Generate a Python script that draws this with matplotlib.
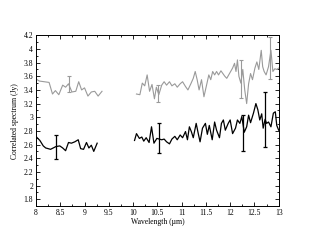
#!/usr/bin/env python3

import numpy as np
import matplotlib
matplotlib.use("Agg")
import matplotlib.pyplot as plt
from matplotlib.ticker import MultipleLocator, FuncFormatter

# --- datos ---------------------------------------------------------
# espectro gris (superior), tramo 8-9.4 um
gris_izq_x = [8.00, 8.07, 8.27, 8.34, 8.40, 8.47, 8.55, 8.61, 8.67, 8.74,
              8.82, 8.88, 8.94, 9.00, 9.07, 9.14, 9.21, 9.28, 9.36]
gris_izq_y = [3.56, 3.53, 3.51, 3.34, 3.39, 3.33, 3.47, 3.44, 3.49, 3.37,
              3.38, 3.52, 3.40, 3.43, 3.31, 3.37, 3.38, 3.31, 3.38]

# espectro gris, tramo 10-13 um
gris_der_x = [10.07, 10.14, 10.19, 10.24, 10.29, 10.34, 10.39, 10.44, 10.48, 10.53,
              10.59, 10.64, 10.69, 10.75, 10.80, 10.86, 10.91, 10.97, 11.02, 11.08,
              11.13, 11.19, 11.24, 11.28, 11.32, 11.36, 11.41, 11.46, 11.52, 11.56,
              11.60, 11.64, 11.68, 11.72, 11.76, 11.81, 11.85, 11.89, 11.93, 11.97,
              12.01, 12.05, 12.09, 12.12, 12.15, 12.18, 12.22, 12.26, 12.30, 12.34,
              12.38, 12.42, 12.46, 12.51, 12.55, 12.59, 12.64, 12.67, 12.70, 12.74,
              12.79, 12.84, 12.88, 12.92, 12.96, 13.00]
gris_der_y = [3.34, 3.33, 3.50, 3.46, 3.62, 3.38, 3.48, 3.27, 3.44, 3.33,
              3.47, 3.52, 3.47, 3.52, 3.46, 3.49, 3.44, 3.49, 3.52, 3.45,
              3.40, 3.49, 3.57, 3.67, 3.55, 3.40, 3.55, 3.30, 3.49, 3.62,
              3.55, 3.67, 3.62, 3.67, 3.62, 3.68, 3.64, 3.60, 3.57, 3.62,
              3.67, 3.72, 3.79, 3.67, 3.84, 3.60, 3.50, 3.70, 3.40, 3.20,
              3.49, 3.64, 3.55, 3.72, 3.81, 3.70, 3.98, 3.74, 3.67, 3.62,
              3.74, 3.98, 3.67, 3.71, 3.70, 3.72]

# espectro negro (inferior), tramo 8-9.3 um
negro_izq_x = [8.01, 8.08, 8.15, 8.20, 8.30, 8.41, 8.49, 8.55, 8.61, 8.67,
               8.73, 8.80, 8.87, 8.92, 8.98, 9.04, 9.09, 9.14, 9.19, 9.26]
negro_izq_y = [2.71, 2.66, 2.58, 2.55, 2.53, 2.57, 2.58, 2.55, 2.51, 2.63,
               2.62, 2.64, 2.67, 2.54, 2.53, 2.63, 2.55, 2.59, 2.50, 2.62]

# espectro negro, tramo 10-13 um
negro_der_x = [10.03, 10.07, 10.13, 10.18, 10.22, 10.27, 10.33, 10.38, 10.43, 10.49,
               10.54, 10.59, 10.64, 10.69, 10.75, 10.80, 10.86, 10.91, 10.97, 11.02,
               11.08, 11.12, 11.16, 11.20, 11.24, 11.30, 11.34, 11.38, 11.43, 11.49,
               11.53, 11.57, 11.63, 11.68, 11.72, 11.78, 11.82, 11.86, 11.90, 11.96,
               12.00, 12.05, 12.11, 12.15, 12.20, 12.24, 12.29, 12.34, 12.38, 12.42,
               12.48, 12.53, 12.57, 12.61, 12.65, 12.68, 12.72, 12.75, 12.79, 12.84,
               12.89, 12.93, 12.96, 13.00]
negro_der_y = [2.66, 2.76, 2.69, 2.71, 2.65, 2.70, 2.63, 2.86, 2.62, 2.69,
               2.68, 2.67, 2.68, 2.64, 2.61, 2.68, 2.72, 2.67, 2.74, 2.70,
               2.79, 2.67, 2.86, 2.79, 2.70, 2.91, 2.77, 2.64, 2.84, 2.91,
               2.75, 2.88, 2.67, 2.93, 2.81, 2.70, 2.91, 2.96, 2.81, 2.91,
               2.96, 2.76, 2.84, 2.96, 2.91, 3.01, 2.78, 2.86, 3.03, 2.92,
               3.06, 3.20, 3.11, 2.96, 3.05, 2.84, 2.97, 2.91, 2.93, 2.86,
               3.06, 3.08, 2.88, 2.81]

# barras de error (x, minimo, maximo)
err_gris_x = [8.67, 10.52, 12.22, 12.82]
err_gris_lo = [3.37, 3.23, 3.28, 3.56]
err_gris_hi = [3.61, 3.47, 3.84, 4.17]

err_negro_x = [8.41, 10.54, 12.27, 12.72]
err_negro_lo = [2.39, 2.47, 2.50, 2.57]
err_negro_hi = [2.74, 2.91, 3.03, 3.37]
# -------------------------------------------------------------------

GRIS = "#9a9a9a"
plt.rcParams["font.family"] = ["Liberation Serif", "DejaVu Serif"]
plt.rcParams["font.size"] = 5.5


def barras(ax, x, lo, hi, color, lw):
    lo = np.array(lo)
    hi = np.array(hi)
    centro = (lo + hi) / 2
    ax.errorbar(x, centro, yerr=(hi - lo) / 2, fmt="none", ecolor=color,
                elinewidth=lw, capsize=1.6, capthick=lw)


fig = plt.figure(figsize=(3.14, 2.43), dpi=100)
ax = fig.add_axes([0.1146, 0.1523, 0.7730, 0.7024])

ax.plot(gris_izq_x, gris_izq_y, color=GRIS, lw=0.8)
ax.plot(gris_der_x, gris_der_y, color=GRIS, lw=0.8)
ax.plot(negro_izq_x, negro_izq_y, color="black", lw=0.9)
ax.plot(negro_der_x, negro_der_y, color="black", lw=0.9)

barras(ax, err_gris_x, err_gris_lo, err_gris_hi, GRIS, 0.8)
barras(ax, err_negro_x, err_negro_lo, err_negro_hi, "black", 0.9)

ax.set_xlim(8, 13)
ax.set_ylim(1.7, 4.2)
ax.xaxis.set_major_locator(MultipleLocator(0.5))
ax.xaxis.set_minor_locator(MultipleLocator(0.25))
ax.yaxis.set_major_locator(MultipleLocator(0.2))
ax.yaxis.set_minor_locator(MultipleLocator(0.1))
fmt = FuncFormatter(lambda v, p: "%g" % round(v, 2))
ax.xaxis.set_major_formatter(fmt)
ax.yaxis.set_major_formatter(fmt)
ax.tick_params(which="both", direction="in", top=True, right=True,
               width=0.6, pad=2)
ax.tick_params(which="major", length=3)
ax.tick_params(which="minor", length=1.5)
for s in ax.spines.values():
    s.set_linewidth(0.7)

ax.set_xlabel("Wavelength (\u00b5m)", labelpad=1)
ax.set_ylabel("Correlated spectrum (Jy)", labelpad=3)

fig.savefig("out.png", dpi=100)
